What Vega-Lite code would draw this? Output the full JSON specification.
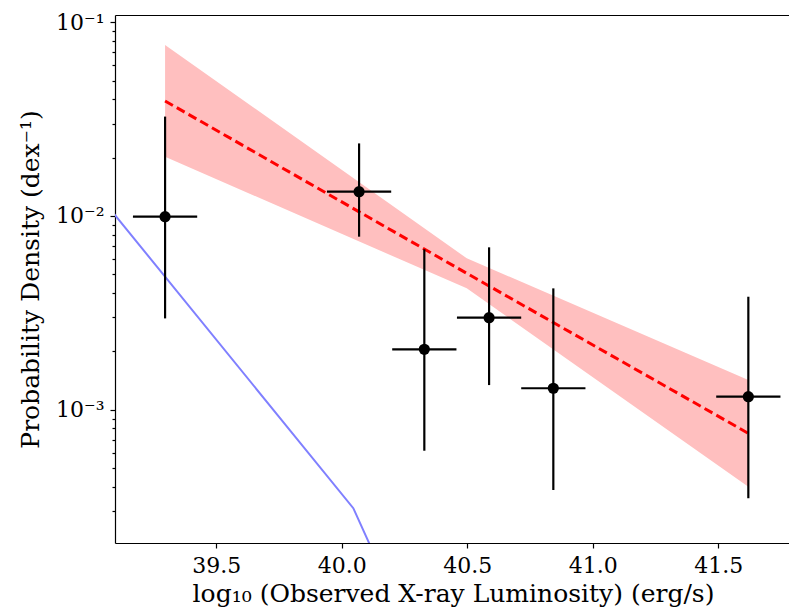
{
  "$schema": "https://vega.github.io/schema/vega-lite/v6.json",
  "autosize": "none",
  "width": 676,
  "height": 528,
  "padding": {"left": 115, "top": 15, "right": 0, "bottom": 70},
  "background": "white",
  "config": {
    "view": {"stroke": null},
    "axis": {
      "labelFont": "DejaVu Serif",
      "titleFont": "DejaVu Serif",
      "labelColor": "black",
      "titleColor": "black",
      "tickColor": "black",
      "domainColor": "black",
      "labelFontSize": 22,
      "titleFontSize": 25,
      "titleFontWeight": "normal",
      "grid": false,
      "domainWidth": 1.2,
      "tickWidth": 1.2
    }
  },
  "datasets": {
    "pts": [
      {"x": 39.296, "y": 0.00992, "ylo": 0.00296, "yhi": 0.0326, "xlo": 39.168, "xhi": 39.424},
      {"x": 40.069, "y": 0.01335, "ylo": 0.00782, "yhi": 0.0237, "xlo": 39.941, "xhi": 40.197},
      {"x": 40.329, "y": 0.00205, "ylo": 0.000614, "yhi": 0.00673, "xlo": 40.201, "xhi": 40.457},
      {"x": 40.587, "y": 0.002985, "ylo": 0.00134, "yhi": 0.00689, "xlo": 40.459, "xhi": 40.715},
      {"x": 40.843, "y": 0.00129, "ylo": 0.000385, "yhi": 0.00423, "xlo": 40.715, "xhi": 40.971},
      {"x": 41.62, "y": 0.001167, "ylo": 0.000349, "yhi": 0.00383, "xlo": 41.492, "xhi": 41.748}
    ],
    "fit": [
      {"x": 39.296, "y": 0.03925, "lo": 0.0202, "hi": 0.0764},
      {"x": 40.498, "y": 0.00506, "lo": 0.00423, "hi": 0.00605},
      {"x": 41.62, "y": 0.000755, "lo": 0.0004004, "hi": 0.001423}
    ],
    "blue": [
      {"x": 39.0, "y": 0.0144},
      {"x": 40.046, "y": 0.00031},
      {"x": 40.2, "y": 0.0001125}
    ]
  },
  "layer": [
    {
      "layer": [
        {
          "data": {"name": "fit"},
          "mark": {"type": "area", "color": "#ffbfbf", "opacity": 1, "clip": true},
          "encoding": {
            "x": {
              "field": "x", "type": "quantitative",
              "scale": {"domain": [39.0965, 41.79], "nice": false, "zero": false},
              "axis": {
                "orient": "bottom",
                "values": [39.5, 40, 40.5, 41, 41.5],
                "format": ".1f",
                "tickSize": 5,
                "labelPadding": 7,
                "title": "log₁₀ (Observed X-ray Luminosity) (erg/s)",
                "titlePadding": 5
              }
            },
            "y": {
              "field": "lo", "type": "quantitative",
              "scale": {"type": "log", "domain": [0.000205, 0.10907], "nice": false},
              "axis": {
                "values": [0.0003, 0.0004, 0.0005, 0.0006, 0.0007, 0.0008, 0.0009, 0.001, 0.002, 0.003, 0.004, 0.005, 0.006, 0.007, 0.008, 0.009, 0.01, 0.02, 0.03, 0.04, 0.05, 0.06, 0.07, 0.08, 0.09, 0.1],
                "labelExpr": "datum.value == 0.1 ? '10⁻¹' : datum.value == 0.01 ? '10⁻²' : datum.value == 0.001 ? '10⁻³' : ''",
                "tickSize": {"condition": {"test": "datum.value == 0.1 || datum.value == 0.01 || datum.value == 0.001", "value": 5}, "value": 3},
                "labelPadding": 6,
                "title": "Probability Density (dex⁻¹)",
                "titlePadding": 12
              }
            },
            "y2": {"field": "hi"}
          }
        },
        {
          "data": {"name": "fit"},
          "mark": {"type": "line", "color": "#ff0000", "strokeWidth": 3, "strokeDash": [9, 4.5], "clip": true},
          "encoding": {
            "x": {"field": "x", "type": "quantitative"},
            "y": {"field": "y", "type": "quantitative"}
          }
        },
        {
          "data": {"name": "blue"},
          "mark": {"type": "line", "color": "#8080ff", "strokeWidth": 2, "clip": true},
          "encoding": {
            "x": {"field": "x", "type": "quantitative"},
            "y": {"field": "y", "type": "quantitative"}
          }
        },
        {
          "data": {"name": "pts"},
          "mark": {"type": "rule", "color": "black", "strokeWidth": 2.2},
          "encoding": {
            "x": {"field": "x", "type": "quantitative"},
            "y": {"field": "ylo", "type": "quantitative"},
            "y2": {"field": "yhi"}
          }
        },
        {
          "data": {"name": "pts"},
          "mark": {"type": "rule", "color": "black", "strokeWidth": 2.2},
          "encoding": {
            "x": {"field": "xlo", "type": "quantitative"},
            "x2": {"field": "xhi"},
            "y": {"field": "y", "type": "quantitative"}
          }
        },
        {
          "data": {"name": "pts"},
          "mark": {"type": "point", "shape": "circle", "filled": true, "color": "black", "opacity": 1, "size": 125},
          "encoding": {
            "x": {"field": "x", "type": "quantitative"},
            "y": {"field": "y", "type": "quantitative"}
          }
        }
      ]
    },
    {
      "data": {"name": "pts"},
      "mark": {"type": "rule", "opacity": 0},
      "encoding": {
        "x": {
          "field": "x", "type": "quantitative",
          "axis": {"orient": "top", "labels": false, "ticks": false, "title": null, "domain": true}
        }
      }
    }
  ],
  "resolve": {"axis": {"x": "independent"}}
}
